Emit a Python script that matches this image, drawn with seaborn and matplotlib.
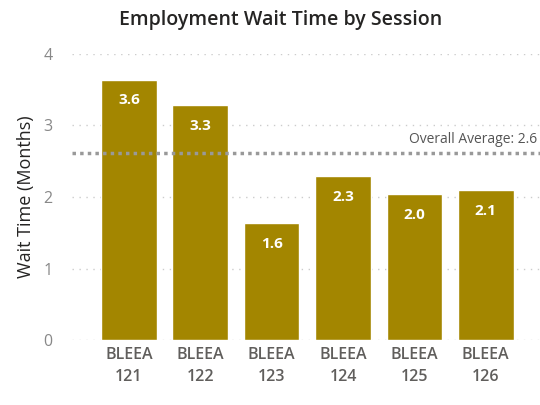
import matplotlib
matplotlib.use("Agg")
import matplotlib.pyplot as plt
import seaborn as sns
import pandas as pd

# --- Data ---
sessions = ["BLEEA\n121", "BLEEA\n122", "BLEEA\n123", "BLEEA\n124", "BLEEA\n125", "BLEEA\n126"]
wait_months = [3.64, 3.28, 1.64, 2.29, 2.04, 2.10]
overall_avg = 2.62

df = pd.DataFrame({"session": sessions, "wait": wait_months})

# --- Style ---
sns.set_style("white")
plt.rcParams["font.family"] = ["Open Sans", "DejaVu Sans"]

BAR = "#A38600"
TICK = "#605E5C"

fig = plt.figure(figsize=(5.4, 4.05), dpi=100)
ax = fig.add_axes([0.133, 0.16, 0.867, 0.707])

sns.barplot(data=df, x="session", y="wait", color=BAR, width=0.78,
            saturation=1, ax=ax, zorder=3)

# value labels inside bars
for c in ax.containers:
    ax.bar_label(c, fmt="%.1f", label_type="edge", padding=-20,
                 color="white", fontsize=11, fontweight="bold")

# gridlines
for y in [0, 1, 2, 3, 4]:
    ax.axhline(y, color="#cccccc", linestyle=(0, (1, 4)), linewidth=1, zorder=1)

# overall average line
ax.axhline(overall_avg, color="#999999", linestyle=(0, (1, 1.2)), linewidth=2.5, zorder=4)
ax.text(5.72, overall_avg + 0.08, f"Overall Average: {overall_avg:.1f}",
        ha="right", va="bottom", fontsize=10, color="#555555")

ax.set_xlim(-0.8, 5.76)
ax.set_ylim(0, 4)
ax.set_yticks([0, 1, 2, 3, 4])
ax.tick_params(axis="both", length=0, labelsize=11.5, labelcolor=TICK)
ax.tick_params(axis="x", pad=5)
ax.tick_params(axis="y", pad=14)
for lbl in ax.get_xticklabels():
    lbl.set_linespacing(1.45)
    lbl.set_fontweight("semibold")
for lbl in ax.get_yticklabels():
    lbl.set_color("#888888")

ax.set_xlabel("")
ax.set_ylabel("Wait Time (Months)", fontsize=13, color="#252423", labelpad=6)
sns.despine(ax=ax, left=True, bottom=True)

fig.suptitle("Employment Wait Time by Session", x=0.52, y=0.975,
             fontsize=14, fontweight="semibold", color="#252423")

fig.savefig("out.png", dpi=100)
